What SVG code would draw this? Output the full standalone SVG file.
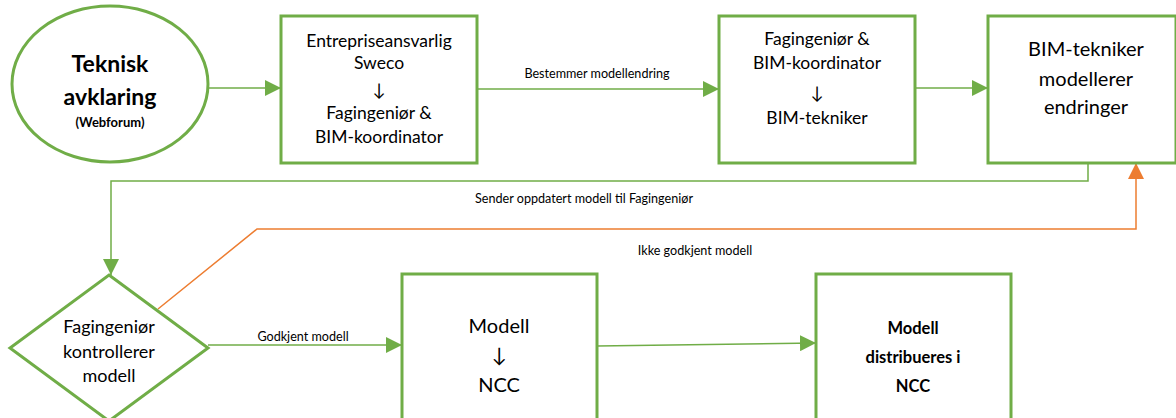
<svg xmlns="http://www.w3.org/2000/svg" width="1176" height="418" viewBox="0 0 1176 418">
<style>
.node{fill:#fff;stroke:#70AD47;stroke-width:3}
.t{font-family:Lato,"Liberation Sans",sans-serif;fill:#000;text-anchor:middle}
.b{font-weight:bold}
.lbl{font-family:Lato,"Liberation Sans",sans-serif;font-size:12.6px;fill:#000;text-anchor:middle}
.g{fill:none;stroke:#70AD47;stroke-width:1.5}
.o{fill:none;stroke:#ED7D31;stroke-width:1.5}
</style>
<defs>
<marker id="ag" markerUnits="userSpaceOnUse" markerWidth="16" markerHeight="16" refX="16" refY="8" orient="auto"><path d="M0,0 L16,8 L0,16 Z" fill="#70AD47"/></marker>
<marker id="ao" markerUnits="userSpaceOnUse" markerWidth="16" markerHeight="16" refX="16" refY="8" orient="auto"><path d="M0,0 L16,8 L0,16 Z" fill="#ED7D31"/></marker>
</defs>
<rect width="1176" height="418" fill="#fff"/>
<g id="connectors">
<path class="g" d="M208,88 L281,88" marker-end="url(#ag)"/>
<path class="g" d="M477,89 L719,89" marker-end="url(#ag)"/>
<path class="g" d="M915,88 L988,88" marker-end="url(#ag)"/>
<path class="g" d="M1088,163 L1088,181 L111,181 L111,275" marker-end="url(#ag)"/>
<path class="o" d="M158,309 L257,229 L1136,229 L1136,163" marker-end="url(#ao)"/>
<path class="g" d="M208,345 L402,345" marker-end="url(#ag)"/>
<path class="g" d="M597,346 L816,343" marker-end="url(#ag)"/>
<text class="lbl" x="597" y="78">Bestemmer modellendring</text>
<text class="lbl" x="584" y="203">Sender oppdatert modell til Fagingeniør</text>
<text class="lbl" x="695" y="255">Ikke godkjent modell</text>
<text class="lbl" x="303" y="341">Godkjent modell</text>
</g>
<g id="n1">
<ellipse class="node" cx="110" cy="84" rx="98" ry="78"/>
<text class="t b" x="110" y="72" font-size="23">Teknisk</text>
<text class="t b" x="110" y="105" font-size="23">avklaring</text>
<text class="t b" x="110" y="127" font-size="13">(Webforum)</text>
</g>
<g id="n2">
<rect class="node" x="281" y="16" width="196" height="147"/>
<g class="t" font-size="17.5">
<text x="379" y="47">Entrepriseansvarlig</text>
<text x="379" y="69">Sweco</text>
<text x="379" y="96">↓</text>
<text x="379" y="119">Fagingeniør &amp;</text>
<text x="379" y="143">BIM-koordinator</text>
</g>
</g>
<g id="n3">
<rect class="node" x="719" y="16" width="196" height="147"/>
<g class="t" font-size="17.5">
<text x="817" y="45">Fagingeniør &amp;</text>
<text x="817" y="69">BIM-koordinator</text>
<text x="817" y="99">↓</text>
<text x="817" y="124">BIM-tekniker</text>
</g>
</g>
<g id="n4">
<rect class="node" x="988" y="16" width="188" height="147"/>
<g class="t" font-size="20">
<text x="1086" y="56">BIM-tekniker</text>
<text x="1086" y="86">modellerer</text>
<text x="1086" y="114">endringer</text>
</g>
</g>
<g id="n5">
<polygon class="node" points="109,275 208,348 109,421 10,348"/>
<g class="t" font-size="18">
<text x="109" y="333">Fagingeniør</text>
<text x="109" y="358">kontrollerer</text>
<text x="109" y="382">modell</text>
</g>
</g>
<g id="n6">
<rect class="node" x="402" y="274" width="195" height="160"/>
<g class="t" font-size="20">
<text x="499" y="333">Modell</text>
<text x="499" y="362">↓</text>
<text x="499" y="392">NCC</text>
</g>
</g>
<g id="n7">
<rect class="node" x="816" y="274" width="195" height="160"/>
<g class="t b" font-size="16.5">
<text x="913" y="334">Modell</text>
<text x="913" y="363">distribueres i</text>
<text x="913" y="392">NCC</text>
</g>
</g>
</svg>
